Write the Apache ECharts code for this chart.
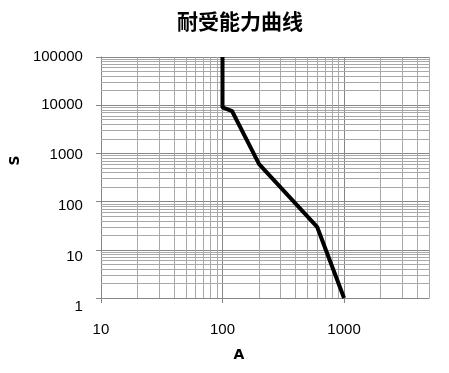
<!DOCTYPE html>
<html>
<head>
<meta charset="utf-8">
<script src="https://cdn.jsdelivr.net/npm/echarts@6/dist/echarts.min.js"></script>
<style>
  html, body { margin: 0; padding: 0; background: #fff; }
  #main { width: 449px; height: 373px; }
</style>
</head>
<body>
<div id="main"></div>
<script>
// curve points (current A, time S)
const currentA = [100, 100, 120, 200, 600, 1000];
const timeS = [100000, 9000, 7500, 600, 30, 1];

// minor log grid lines
const xMinor = [20, 30, 40, 50, 60, 70, 80, 90,
  200, 300, 400, 500, 600, 700, 800, 900,
  2000, 3000, 4000, 5000];
const yMinor = [2, 3, 4, 5, 6, 7, 8, 9,
  20, 30, 40, 50, 60, 70, 80, 90,
  200, 300, 400, 500, 600, 700, 800, 900,
  2000, 3000, 4000, 5000, 6000, 7000, 8000, 9000,
  20000, 30000, 40000, 50000, 60000, 70000, 80000, 90000];

const labelFont = "'Liberation Sans', sans-serif";
const axisColor = "#868686";
const minorColor = "#a8a8a8";

// excel places the lower y labels a little below their lines
const yLabelDrop = { 1: 18, 10: 14, 100: 8, 1000: 2, 10000: 0, 100000: 0 };

var myChart = echarts.init(document.querySelector("#main"), null, { renderer: "canvas" });

const gridLines = xMinor.map(v => ({ xAxis: v })).concat(yMinor.map(v => ({ yAxis: v })));

const yRich = {};
Object.keys(yLabelDrop).forEach(k => {
  yRich["v" + k] = {
    fontFamily: labelFont,
    fontSize: 15,
    color: "#000",
    padding: [yLabelDrop[k], 0, 0, 0]
  };
});

const options = {
  animation: false,
  title: {
    text: "耐受能力曲线",
    left: 172,
    top: 6,
    textStyle: {
      fontFamily: "'Noto Sans CJK SC', sans-serif",
      fontSize: 21,
      fontWeight: "bold",
      color: "#000"
    }
  },
  grid: {
    left: 100,
    top: 57,
    right: 20,
    bottom: 75,
    containLabel: false
  },
  xAxis: {
    type: "log",
    logBase: 10,
    min: 10,
    max: 5000,
    name: "A",
    nameLocation: "middle",
    nameGap: 50,
    nameTextStyle: {
      fontFamily: "'DejaVu Sans', sans-serif",
      fontSize: 14,
      fontWeight: "bold",
      color: "#000",
      padding: [0, 52, 0, 0]
    },
    axisLine: { lineStyle: { color: axisColor, width: 1 } },
    axisTick: { show: true, length: 5, inside: false, lineStyle: { color: axisColor } },
    axisLabel: {
      showMaxLabel: false,
      margin: 24,
      fontFamily: labelFont,
      fontSize: 15,
      color: "#000",
      formatter: v => String(Math.round(v))
    },
    splitLine: { show: true, lineStyle: { color: axisColor, width: 1 } }
  },
  yAxis: {
    type: "log",
    logBase: 10,
    min: 1,
    max: 100000,
    name: "S",
    nameLocation: "middle",
    nameGap: 75,
    nameRotate: 90,
    nameTextStyle: {
      fontFamily: "'DejaVu Sans', sans-serif",
      fontSize: 14,
      fontWeight: "bold",
      color: "#000",
      padding: [0, 0, 0, 34]
    },
    axisLine: { show: true, lineStyle: { color: axisColor, width: 1 } },
    axisTick: { show: true, length: 5, inside: false, lineStyle: { color: axisColor } },
    axisLabel: {
      margin: 18,
      fontFamily: labelFont,
      fontSize: 15,
      color: "#000",
      formatter: v => {
        const n = Math.round(v);
        return yLabelDrop[n] !== undefined ? "{v" + n + "|" + n + "}" : String(n);
      },
      rich: yRich
    },
    splitLine: { show: true, lineStyle: { color: axisColor, width: 1 } }
  },
  series: [
    {
      name: "grid",
      type: "line",
      z: 1,
      data: [],
      silent: true,
      markLine: {
        silent: true,
        symbol: "none",
        animation: false,
        label: { show: false },
        lineStyle: { color: minorColor, width: 1, type: "solid" },
        emphasis: { disabled: true },
        data: gridLines
      }
    },
    {
      name: "耐受能力",
      type: "line",
      z: 5,
      data: currentA.map((a, i) => [a, timeS[i]]),
      showSymbol: false,
      symbol: "none",
      lineStyle: { color: "#000", width: 4 },
      itemStyle: { color: "#000" }
    }
  ]
};

myChart.setOption(options);
window.onresize = function() {
  myChart.resize();
};
</script>
</body>
</html>
